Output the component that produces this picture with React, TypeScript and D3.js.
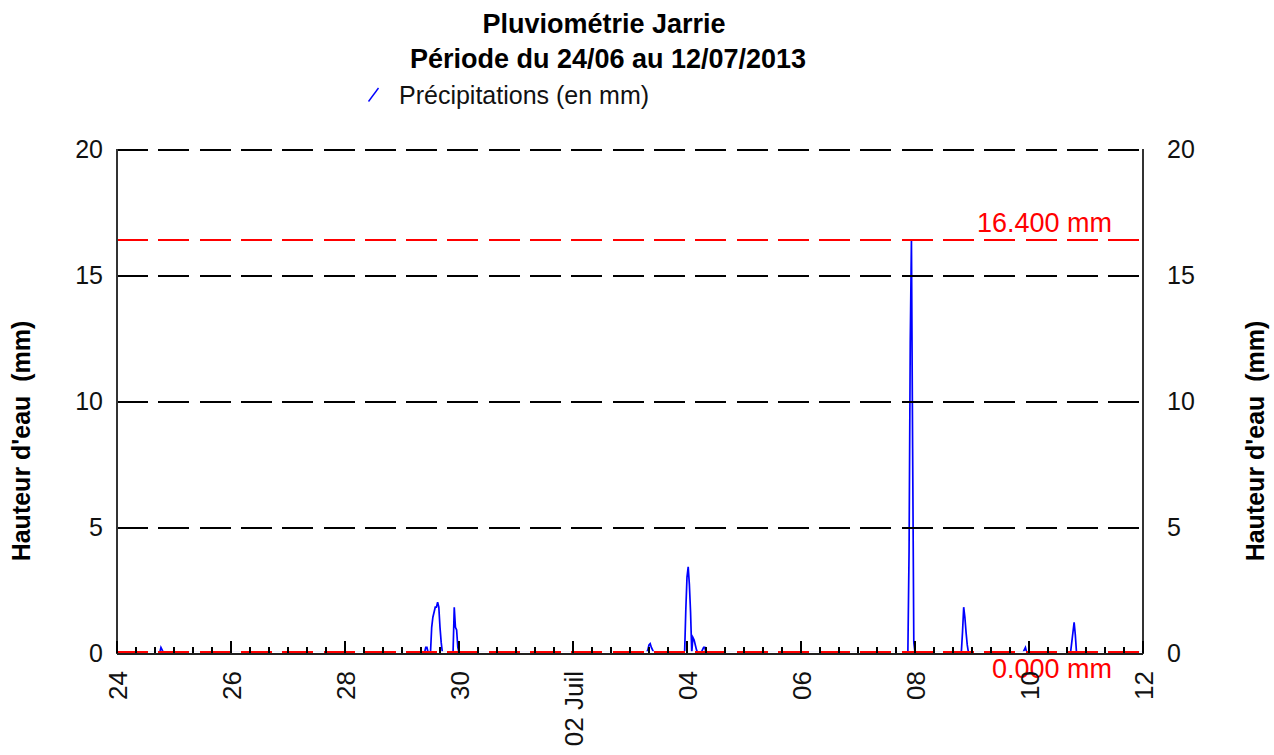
import React from 'react';
import * as d3 from 'd3';

const W = 1274;
const H = 755;

// Time axis: half-hourly slots from 24/06/2013 00:00 to 12/07/2013 00:00
const startDate = new Date(2013, 5, 24, 0, 0);
const endDate = new Date(2013, 6, 12, 0, 0);
const slotMinutes = 30;
const slotCount = 18 * 48;

// Non-zero rain records (slot index from start, value in mm); all other slots are 0 mm
const rainSlot = [
  37, 38,
  260, 261, 265, 266, 267, 268, 269, 270, 271, 272, 273,
  284, 285, 286, 287,
  447, 448, 449, 450, 451,
  479, 480, 481, 482, 483, 485, 486, 487, 488, 493, 494, 495,
  667, 668, 669, 670, 671,
  712, 713, 714, 715, 716,
  764, 765,
  804, 805, 806, 807,
];
const rainMm = [
  0.2, 0.1,
  0.2, 0.2, 1.0, 1.4, 1.6, 1.8, 1.8, 2.0, 1.8, 1.0, 0.4,
  1.8, 1.0, 0.9, 0.2,
  0.1, 0.3, 0.35, 0.2, 0.1,
  1.7, 3.0, 3.4, 2.7, 1.6, 0.6, 0.5, 0.3, 0.1, 0.1, 0.2, 0.2,
  4.0, 12.3, 16.4, 8.1, 0.4,
  0.8, 1.8, 1.4, 0.8, 0.3,
  0.1, 0.2,
  0.4, 0.8, 1.2, 0.7,
];

const yTicks = [0, 5, 10, 15, 20];
const gridValues = [5, 10, 15, 20];
const xTickLabels = ['24', '26', '28', '30', '02 Juil', '04', '06', '08', '10', '12'];
const maxValue = 16.4;
const minValue = 0.0;

const titleLines = ['Pluviométrie Jarrie', 'Période du 24/06 au 12/07/2013'];
const legendLabel = 'Précipitations (en mm)';
const yAxisTitle = "Hauteur d'eau  (mm)";

const FONT = '"Liberation Sans", Arial, Helvetica, sans-serif';

export default function App() {
  const x = d3.scaleTime().domain([startDate, endDate]).range([117, 1143]);
  const y = d3.scaleLinear().domain([0, 20]).range([652.5, 149]);

  const lookup = new Map<number, number>();
  rainSlot.forEach((s, i) => lookup.set(s, rainMm[i]));
  const series = d3.range(0, slotCount + 1).map((i) => ({
    t: new Date(startDate.getTime() + i * slotMinutes * 60000),
    v: lookup.get(i) ?? 0,
  }));

  const line = d3
    .line<{ t: Date; v: number }>()
    .x((d) => x(d.t))
    .y((d) => y(d.v));

  const majorTicks = d3.range(0, 19, 2).map((d) => d3.timeDay.offset(startDate, d));
  const minorTicks = d3.timeHour.every(8)!.range(startDate, d3.timeHour.offset(endDate, 1));

  const [x0, x1] = x.range();
  const yBottom = y(0);
  const dash = '31 10.3';

  return (
    <svg
      width={W}
      height={H}
      viewBox={`0 0 ${W} ${H}`}
      style={{ position: 'absolute', left: 0, top: 0, background: '#fff' }}
      fontFamily={FONT}
    >
      <defs>
        <clipPath id="plotClip">
          <rect x={x0} y={140} width={x1 - x0} height={yBottom - 1.2 - 140} />
        </clipPath>
      </defs>
      <rect x={0} y={0} width={W} height={H} fill="#fff" />

      {/* Title */}
      <text x={604} y={33} textAnchor="middle" fontSize={27} fontWeight="bold" fill="#000">
        {titleLines[0]}
      </text>
      <text x={608} y={68} textAnchor="middle" fontSize={27} fontWeight="bold" fill="#000">
        {titleLines[1]}
      </text>

      {/* Legend */}
      <line x1={368.5} y1={101.5} x2={378.5} y2={88} stroke="#0000ff" strokeWidth={1.4} />
      <text x={399} y={104} fontSize={25} fill="#111">
        {legendLabel}
      </text>

      {/* Data line */}
      <path
        d={line(series) ?? ''}
        fill="none"
        stroke="#0000ff"
        strokeWidth={1.7}
        strokeLinejoin="miter"
        clipPath="url(#plotClip)"
      />

      {/* Grid dashed lines */}
      {gridValues.map((v) => (
        <line key={v} x1={x0} x2={x1} y1={Math.round(y(v)) + 0.5} y2={Math.round(y(v)) + 0.5} stroke="#000" strokeWidth={2} strokeDasharray={dash} shapeRendering="crispEdges" />
      ))}

      {/* Max line */}
      <line x1={x0} x2={x1} y1={Math.round(y(maxValue))} y2={Math.round(y(maxValue))} stroke="#ff0000" strokeWidth={1.6} strokeDasharray={dash} shapeRendering="crispEdges" />
      <text x={1112} y={232} textAnchor="end" fontSize={27} fill="#ff0000">
        {maxValue.toFixed(3)} mm
      </text>

      {/* Axes */}
      <line x1={x0} x2={x0} y1={149} y2={654} stroke="#333" strokeWidth={2} shapeRendering="crispEdges" />
      <line x1={x1} x2={x1} y1={149} y2={654} stroke="#333" strokeWidth={2} shapeRendering="crispEdges" />
      <line x1={x0} x2={x1} y1={653.5} y2={653.5} stroke="#222" strokeWidth={2} shapeRendering="crispEdges" />

      {/* Min line */}
      <line x1={x0} x2={x1} y1={yBottom - 1} y2={yBottom - 1} stroke="#ff0000" strokeWidth={2} strokeDasharray={dash} shapeRendering="crispEdges" />
      <text x={1112} y={678} textAnchor="end" fontSize={27} fill="#ff0000">
        {minValue.toFixed(3)} mm
      </text>

      {/* X ticks */}
      {minorTicks.map((t, i) => (
        <line key={'mi' + i} x1={x(t)} x2={x(t)} y1={653} y2={646.5} stroke="#000" strokeWidth={1.5} shapeRendering="crispEdges" />
      ))}
      {majorTicks.map((t, i) => (
        <line key={'ma' + i} x1={x(t)} x2={x(t)} y1={653} y2={641} stroke="#000" strokeWidth={2} shapeRendering="crispEdges" />
      ))}

      {/* X tick labels (rotated) */}
      {majorTicks.map((t, i) => (
        <text
          key={'xl' + i}
          transform={`translate(${x(t) + 10},671) rotate(-90)`}
          textAnchor="end"
          fontSize={26}
          fill="#111"
        >
          {xTickLabels[i]}
        </text>
      ))}

      {/* Y tick labels */}
      {yTicks.map((v) => (
        <text key={'yl' + v} x={103} y={y(v) + 9} textAnchor="end" fontSize={25} fill="#111">
          {v}
        </text>
      ))}
      {yTicks.map((v) => (
        <text key={'yr' + v} x={1167} y={y(v) + 9} textAnchor="start" fontSize={25} fill="#111">
          {v}
        </text>
      ))}

      {/* Y axis titles */}
      <text
        transform="translate(30,441) rotate(-90)"
        textAnchor="middle"
        fontSize={25}
        fontWeight="bold"
        fill="#000"
        style={{ whiteSpace: 'pre' }}
      >
        {yAxisTitle}
      </text>
      <text
        transform="translate(1264,441) rotate(-90)"
        textAnchor="middle"
        fontSize={25}
        fontWeight="bold"
        fill="#000"
        style={{ whiteSpace: 'pre' }}
      >
        {yAxisTitle}
      </text>
    </svg>
  );
}
